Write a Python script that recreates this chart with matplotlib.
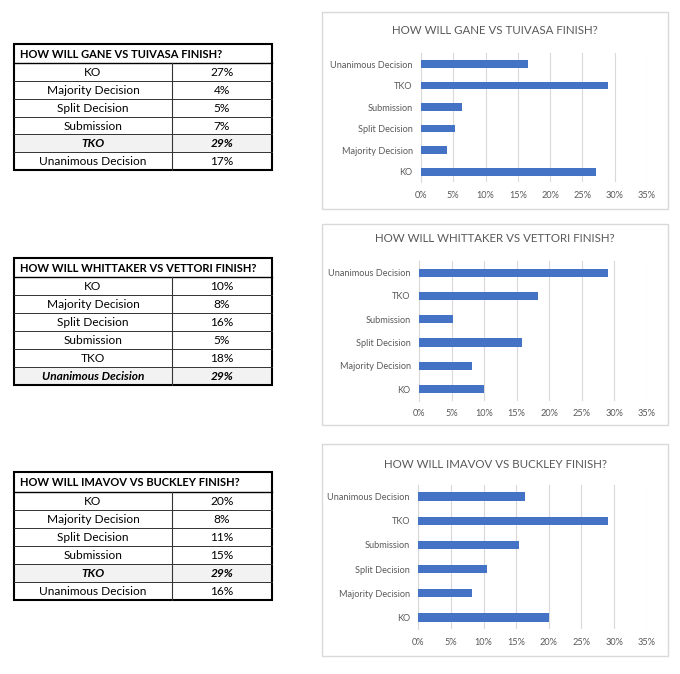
import matplotlib.pyplot as plt
from matplotlib.patches import Rectangle
from matplotlib.ticker import PercentFormatter

categories = ['KO', 'Majority Decision', 'Split Decision', 'Submission', 'TKO', 'Unanimous Decision']
titles = ['HOW WILL GANE VS TUIVASA FINISH?',
          'HOW WILL WHITTAKER VS VETTORI FINISH?',
          'HOW WILL IMAVOV VS BUCKLEY FINISH?']

# table values (rounded, as printed)
gane_table = [27, 4, 5, 7, 29, 17]
whittaker_table = [10, 8, 16, 5, 18, 29]
imavov_table = [20, 8, 11, 15, 29, 16]

# chart values
gane_chart = [27.1, 4.1, 5.3, 6.4, 28.9, 16.5]
whittaker_chart = [10.0, 8.1, 15.8, 5.3, 18.3, 29.0]
imavov_chart = [20.1, 8.2, 10.6, 15.4, 29.0, 16.3]

tables = [gane_table, whittaker_table, imavov_table]
charts = [gane_chart, whittaker_chart, imavov_chart]

W, H = 680, 674
fig = plt.figure(figsize=(W / 100, H / 100), dpi=100)
plt.rcParams['font.family'] = ['Lato', 'DejaVu Sans']

# background axes in pixel coordinates for the tables and chart frames
bg = fig.add_axes([0, 0, 1, 1])
bg.set_xlim(0, W)
bg.set_ylim(H, 0)
bg.axis('off')

# table layout (top, header bottom, bottom)
tab_pos = [(44, 63.3, 170), (258.3, 277.3, 385), (472.3, 491.7, 600)]
tx0, tx1, tdiv = 13.5, 271.5, 172.3

for vals, title, (top, hb, bot) in zip(tables, titles, tab_pos):
    rh = (bot - hb) / len(categories)
    imax = vals.index(max(vals))
    for i, (cat, v) in enumerate(zip(categories, vals)):
        y0 = hb + i * rh
        yc = y0 + rh / 2
        hl = i == imax
        if hl:
            bg.add_patch(Rectangle((tx0, y0), tx1 - tx0, rh, facecolor='#f2f2f2', edgecolor='none'))
        kw = dict(ha='center', va='center', fontsize=8.6, color='black',
                  fontweight='bold' if hl else 'normal', fontstyle='italic' if hl else 'normal')
        bg.text((tx0 + tdiv) / 2, yc + 0.5, cat, **kw)
        bg.text((tdiv + tx1) / 2, yc + 0.5, f'{v}%', **kw)
        if i > 0:
            bg.plot([tx0, tx1], [y0, y0], color='#333333', lw=0.7)
    bg.plot([tx0, tx1], [hb, hb], color='black', lw=1.0)
    bg.plot([tdiv, tdiv], [hb, bot], color='#333333', lw=0.8)
    bg.add_patch(Rectangle((tx0, top), tx1 - tx0, bot - top, facecolor='none', edgecolor='black', lw=1.5))
    bg.text(tx0 + 6, (top + hb) / 2 + 0.5, title, ha='left', va='center',
            fontsize=8.0, fontweight='bold', color='black')

# chart frames and plot areas: frame (x0, y0, x1, y1), plot (x0, x1, top, bottom), title y
frames = [(322, 12, 668, 209), (322, 224, 668, 425), (322, 444, 668, 656)]
plots = [(421, 647, 53.3, 182.5), (419, 646.7, 261, 400.7), (418.3, 646.7, 484.6, 629.4)]
title_y = [31, 239, 464]

for vals, title, fr, pl, ty in zip(charts, titles, frames, plots, title_y):
    bg.add_patch(Rectangle((fr[0], fr[1]), fr[2] - fr[0], fr[3] - fr[1],
                           facecolor='white', edgecolor='#d9d9d9', lw=1.0))
    bg.text((fr[0] + fr[2]) / 2, ty, title, ha='center', va='center', fontsize=8.3, color='#595959')
    x0, x1, t, b = pl
    ax = fig.add_axes([x0 / W, 1 - b / H, (x1 - x0) / W, (b - t) / H])
    ax.barh(range(len(categories)), vals, height=0.35, color='#4472c4', zorder=3)
    ax.set_xlim(0, 35)
    ax.set_ylim(-0.5, len(categories) - 0.5)
    ax.set_xticks(range(0, 36, 5))
    ax.xaxis.set_major_formatter(PercentFormatter(decimals=0))
    ax.set_yticks(range(len(categories)))
    ax.set_yticklabels(categories)
    ax.grid(axis='x', color='#d9d9d9', lw=0.8, zorder=0)
    for s in ax.spines.values():
        s.set_visible(False)
    ax.spines['left'].set_visible(True)
    ax.spines['left'].set_color('#d9d9d9')
    ax.tick_params(length=0, labelsize=6.6, colors='#595959', pad=6)
    ax.patch.set_alpha(0)

fig.savefig('out.png', dpi=100)
